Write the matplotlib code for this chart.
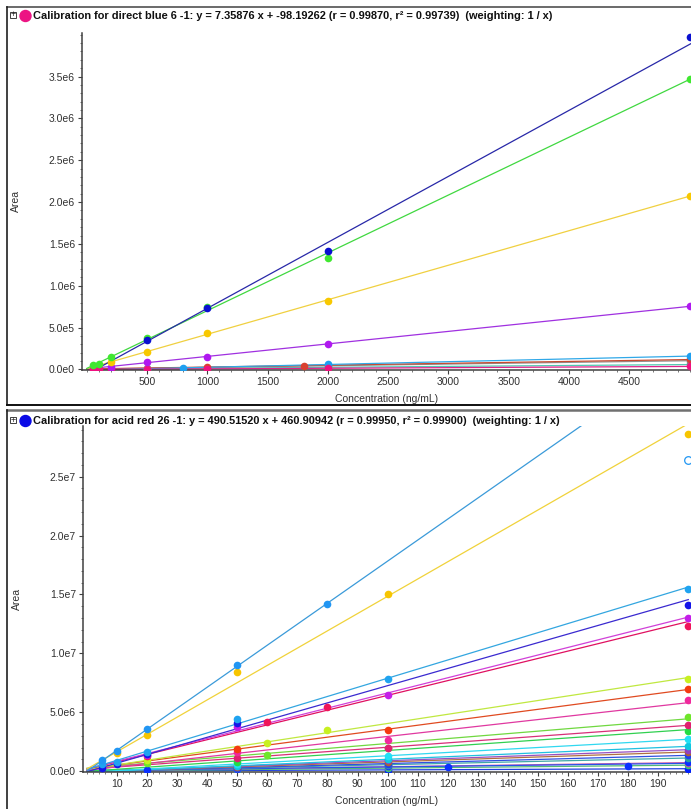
import numpy as np
import matplotlib
matplotlib.use("Agg")
import matplotlib.pyplot as plt
from matplotlib.ticker import FixedLocator, MultipleLocator, FuncFormatter
from matplotlib.lines import Line2D
from matplotlib.patches import Rectangle, Ellipse

W, H = 691, 809

# ---- top panel data (direct blue 6) ----
top_title = "Calibration for direct blue 6 -1: y = 7.35876 x + -98.19262 (r = 0.99870, r² = 0.99739)  (weighting: 1 / x)"
blue_x = [500, 1000, 2000, 5000]
blue_y = [3.5e5, 7.4e5, 1.41e6, 3.97e6]
green_x = [50, 100, 200, 500, 1000, 2000, 5000]
green_y = [5e4, 7e4, 1.5e5, 3.8e5, 7.5e5, 1.33e6, 3.47e6]
yellow_x = [200, 500, 1000, 2000, 5000]
yellow_y = [9e4, 2.1e5, 4.4e5, 8.2e5, 2.07e6]
purple_x = [200, 500, 1000, 2000, 5000]
purple_y = [3.5e4, 9e4, 1.5e5, 3.0e5, 7.6e5]
cyan_x = [800, 2000, 5000]
cyan_y = [2e4, 6e4, 1.6e5]
red_x = [1000, 1800, 5000]
red_y = [3e4, 4.5e4, 1.2e5]
gray_x = [500, 2000, 5000]
gray_y = [1.5e4, 4.5e4, 1.05e5]
teal_x = [500, 2000, 5000]
teal_y = [1e4, 2.5e4, 6e4]
pink_x = [50, 100, 200, 500, 1000, 2000, 5000]
pink_y = [500, 700, 1400, 3600, 7300, 1.47e4, 3.7e4]

top_series = [
    (teal_x, teal_y, "#40c8a8", "#50c8b0"),
    (gray_x, gray_y, "#888888", "#909090"),
    (red_x, red_y, "#d84030", "#c84a30"),
    (cyan_x, cyan_y, "#1e9ff0", "#30a8e8"),
    (pink_x, pink_y, "#f01080", "#e0208a"),
    (purple_x, purple_y, "#b018f0", "#a030e0"),
    (yellow_x, yellow_y, "#f8c800", "#f0d040"),
    (green_x, green_y, "#40e830", "#40d840"),
    (blue_x, blue_y, "#0a10d0", "#2828a8"),
]

# ---- bottom panel data (acid red 26) ----
bot_title = "Calibration for acid red 26 -1: y = 490.51520 x + 460.90942 (r = 0.99950, r² = 0.99900)  (weighting: 1 / x)"
sky1_x = [5, 10, 20, 50, 80]
sky1_y = [9e5, 1.7e6, 3.55e6, 9.0e6, 1.42e7]
yel_x = [10, 20, 50, 100, 200]
yel_y = [1.5e6, 3.1e6, 8.4e6, 1.5e7, 2.86e7]
sky2_x = [5, 10, 20, 50, 100, 200]
sky2_y = [6e5, 7.5e5, 1.6e6, 4.4e6, 7.85e6, 1.545e7]
blu_x = [5, 10, 20, 50, 200]
blu_y = [3e5, 6e5, 1.45e6, 4.1e6, 1.41e7]
mag_x = [20, 50, 100, 200]
mag_y = [1.4e6, 3.7e6, 6.5e6, 1.30e7]
redb_x = [20, 60, 80, 200]
redb_y = [1.3e6, 4.2e6, 5.4e6, 1.23e7]
lime_x = [20, 60, 80, 200]
lime_y = [9e5, 2.4e6, 3.5e6, 7.8e6]
orng_x = [50, 100, 200]
orng_y = [1.9e6, 3.45e6, 7.0e6]
pnk_x = [50, 100, 200]
pnk_y = [1.6e6, 2.65e6, 6.0e6]
grn1_x = [20, 60, 200]
grn1_y = [7e5, 1.35e6, 4.55e6]
rose_x = [50, 100, 200]
rose_y = [1.1e6, 2.0e6, 3.9e6]
grn2_x = [50, 100, 200]
grn2_y = [8e5, 1.93e6, 3.4e6]
cyn1_x = [50, 100, 200]
cyn1_y = [6e5, 1.3e6, 2.7e6]
cyn2_x = [50, 100, 200]
cyn2_y = [4.5e5, 1.0e6, 2.1e6]
vio_x = [50, 100, 200]
vio_y = [4e5, 9e5, 1.8e6]
brn_x = [50, 100, 200]
brn_y = [3.5e5, 8e5, 1.6e6]
navy_x = [50, 100, 200]
navy_y = [3e5, 6e5, 1.36e6]
tea2_x = [50, 100, 200]
tea2_y = [2.5e5, 5.5e5, 1.1e6]
pk2_x = [50, 100, 200]
pk2_y = [1.8e5, 4e5, 7e5]
gr3_x = [50, 100, 200]
gr3_y = [1.2e5, 2.5e5, 5e5]
blu2_x = [20, 50, 100, 120, 180, 200]
blu2_y = [1e5, 2e5, 4.5e5, 3.1e5, 4.5e5, 8e5]
blu3_x = [50, 100, 200]
blu3_y = [5e4, 1e5, 2e5]
excl_x = [200]
excl_y = [2.64e7]

bot_series = [
    (blu3_x, blu3_y, "#0020ff", "#2040e0"),
    (gr3_x, gr3_y, "#40c070", "#50b878"),
    (pk2_x, pk2_y, "#e050a0", "#d860a8"),
    (blu2_x, blu2_y, "#0a30ff", "#2a50e8"),
    (tea2_x, tea2_y, "#30a0a0", "#40a8a8"),
    (navy_x, navy_y, "#2040f0", "#3050e0"),
    (brn_x, brn_y, "#b06030", "#b07040"),
    (vio_x, vio_y, "#9040c0", "#9850c0"),
    (cyn2_x, cyn2_y, "#10c8e0", "#20c0e0"),
    (cyn1_x, cyn1_y, "#22e0f5", "#30d8f0"),
    (grn2_x, grn2_y, "#22dd44", "#30d050"),
    (rose_x, rose_y, "#e02070", "#d83078"),
    (grn1_x, grn1_y, "#6ee62a", "#70d840"),
    (pnk_x, pnk_y, "#f0289c", "#e038a0"),
    (orng_x, orng_y, "#f53a10", "#e04a20"),
    (lime_x, lime_y, "#c8f020", "#c0e840"),
    (redb_x, redb_y, "#f0145a", "#e01060"),
    (mag_x, mag_y, "#c41ee8", "#d040d8"),
    (blu_x, blu_y, "#1515e8", "#3a2ad0"),
    (sky2_x, sky2_y, "#1fa3f0", "#33a6e0"),
    (yel_x, yel_y, "#f7c500", "#f0d23a"),
    (sky1_x, sky1_y, "#2196f3", "#3a9ad9"),
]

plt.rcParams["font.family"] = ["Liberation Sans", "DejaVu Sans"]
TXT = "#303030"


def box(l, t, r, b):
    return [l / W, 1 - b / H, (r - l) / W, (b - t) / H]


def sci(v, pos):
    if v == 0:
        return "0.0e0"
    e = int(np.floor(np.log10(abs(v)) + 1e-9))
    return "%.1fe%d" % (v / 10 ** e, e)


def setup(ax, xlim, ylim, xmaj, xmin_step, ymaj, ymin_step, xlab_y):
    ax.set_xlim(*xlim)
    ax.set_ylim(*ylim)
    for s in ["top", "right"]:
        ax.spines[s].set_visible(False)
    for s in ["left", "bottom"]:
        ax.spines[s].set_color("#404040")
        ax.spines[s].set_linewidth(1.1)
    ax.xaxis.set_major_locator(FixedLocator(xmaj))
    ax.xaxis.set_minor_locator(MultipleLocator(xmin_step))
    ax.yaxis.set_major_locator(FixedLocator(ymaj))
    ax.yaxis.set_minor_locator(MultipleLocator(ymin_step))
    ax.yaxis.set_major_formatter(FuncFormatter(sci))
    ax.tick_params(which="major", direction="out", length=3, width=0.8,
                   colors="#404040", labelcolor=TXT, labelsize=7.5, pad=2)
    ax.tick_params(which="minor", direction="out", length=1.6, width=0.6,
                   colors="#606060")
    ax.set_xlabel("Concentration (ng/mL)", fontsize=7.5, color=TXT)
    ax.set_ylabel("Area", fontsize=7.5, color=TXT)
    ax.xaxis.set_label_coords(0.5, xlab_y)
    ax.yaxis.set_label_coords(-0.101, 0.5)


def draw(ax, series, x_end):
    for xs, ys, mc, lc in series:
        xs = np.array(xs, float)
        ys = np.array(ys, float)
        k, b = np.polyfit(xs, ys, 1, w=1 / np.sqrt(xs))
        ax.plot([0, x_end], [b, k * x_end + b], color=lc, lw=0.9, zorder=2)
        ax.plot(xs, ys, "o", color=mc, ms=5.5, mec="none", zorder=3)


fig = plt.figure(figsize=(W / 100, H / 100), dpi=100)

# top panel
ax1 = fig.add_axes(box(82, 33, 691, 370))
draw(ax1, top_series, 5011)
setup(ax1, (-39, 5011), (-6000, 4.02e6),
      [500, 1000, 1500, 2000, 2500, 3000, 3500, 4000, 4500], 100,
      np.arange(0, 3.6e6, 5e5), 1e5, -0.071)

# bottom panel
ax2 = fig.add_axes(box(83, 426, 691, 772))
draw(ax2, bot_series, 200)
ax2.plot(excl_x, excl_y, "o", mfc="white", mec="#2196f3", ms=5.5, mew=0.9, zorder=3)
setup(ax2, (-1.3, 200.9), (-8e4, 2.93e7),
      list(range(10, 200, 10)), 2,
      np.arange(0, 2.6e7, 5e6), 1e6, -0.069)

# panel borders
def fline(xs, ys, **kw):
    fig.add_artist(Line2D([x / W for x in xs], [1 - y / H for y in ys], **kw))

fline([7, 691], [7, 7], color="#505050", lw=1.2)
fline([7, 7], [7, 405], color="#202020", lw=1.2)
fline([7, 691], [405, 405], color="#101010", lw=1.4)
fline([7, 691], [410, 410], color="#707070", lw=1.8)
fline([7, 7], [410, 809], color="#202020", lw=1.2)

# title bars
for ty, title, dot in [(15, top_title, "#ec1483"), (420, bot_title, "#0a0ae6")]:
    fig.add_artist(Rectangle((10 / W, 1 - (ty + 3) / H), 6 / W, 6 / H,
                             transform=fig.transFigure, fill=False,
                             ec="#404040", lw=0.7))
    fig.text(13 / W, 1 - ty / H, "+", ha="center", va="center",
             fontsize=6.5, color="#202020")
    fig.add_artist(Ellipse((25.5 / W, 1 - (ty + 1) / H), 11 / W, 11 / H,
                           transform=fig.transFigure, color=dot))
    fig.text(33 / W, 1 - (ty + 1) / H, title, ha="left", va="center",
             fontsize=7.9, fontweight="bold", color="#101010",
             family=["Liberation Sans Narrow", "Liberation Sans", "DejaVu Sans"])

fig.savefig("out.png", dpi=100)
